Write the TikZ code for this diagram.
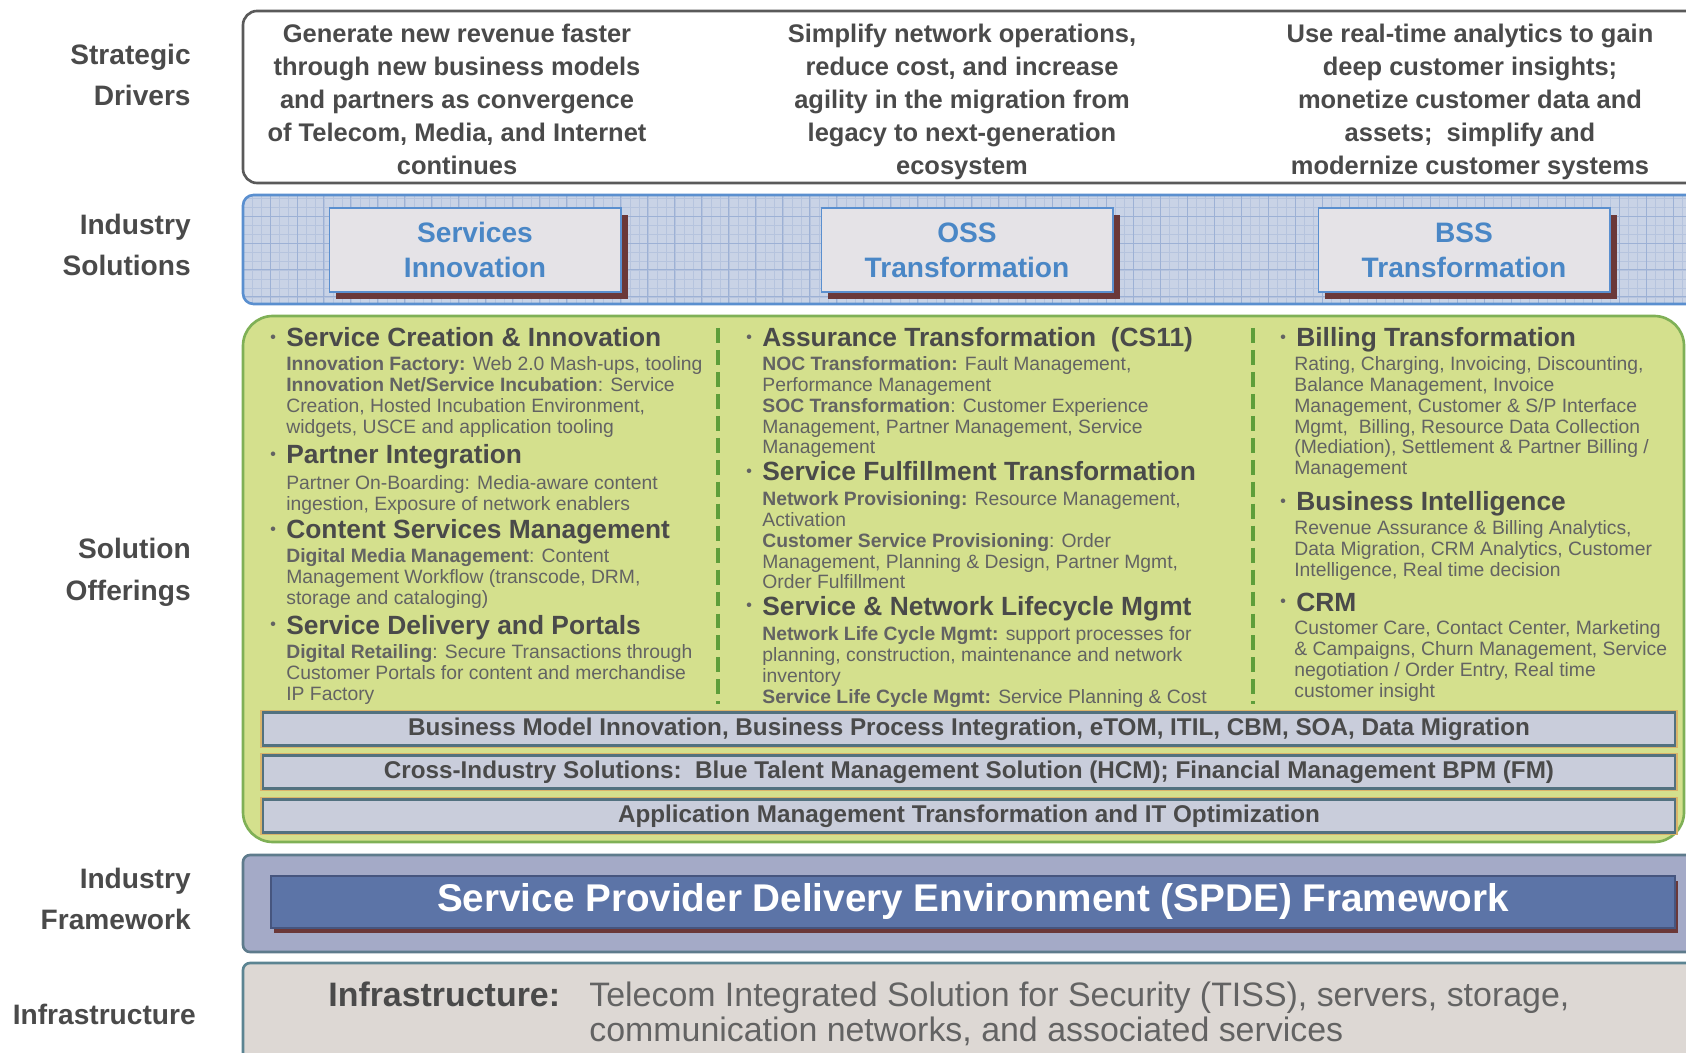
\documentclass[tikz,border=0pt]{standalone}
\usepackage{fontspec}
\setmainfont{Liberation Sans}
\usetikzlibrary{positioning,shadows}
\definecolor{TextGray}{HTML}{4A4A4A}
\definecolor{BodyGray}{HTML}{636363}
\definecolor{DriverEdge}{HTML}{5A5A5A}
\definecolor{SolFill}{HTML}{C9D3E6}
\definecolor{SolGrid}{HTML}{B6C4DE}
\definecolor{SolGridMajor}{HTML}{9DB1D5}
\definecolor{SolEdge}{HTML}{5A8FCF}
\definecolor{BoxFill}{HTML}{E5E3E7}
\definecolor{BoxText}{HTML}{4A87C6}
\definecolor{Shadow}{HTML}{6B3838}
\definecolor{Leaf}{HTML}{D4E08D}
\definecolor{LeafEdge}{HTML}{7FB056}
\definecolor{Dash}{HTML}{5E9E3A}
\definecolor{BarFill}{HTML}{C9CDDB}
\definecolor{BarEdge}{HTML}{52717F}
\definecolor{BarGlow}{HTML}{D9B46A}
\definecolor{FrameFill}{HTML}{A4AAC7}
\definecolor{FrameEdge}{HTML}{5E7B8C}
\definecolor{SpdeFill}{HTML}{5C74A7}
\definecolor{SpdeEdge}{HTML}{46557E}
\definecolor{InfraFill}{HTML}{DDD8D4}
\definecolor{InfraEdge}{HTML}{5B8492}

\begin{document}
\begin{tikzpicture}[x=0.02cm, y=-0.02cm,
    lbl/.style={anchor=east, align=right, inner sep=0pt, text=TextGray, font=\fontsize{16}{23.8}\selectfont\bfseries},
    driver/.style={anchor=north, align=center, inner sep=0pt, text=TextGray, font=\fontsize{14.5}{18.7}\selectfont\bfseries},
    solbox/.style={fill=BoxFill, draw=SolEdge, line width=0.6pt, minimum width=5.84cm, minimum height=1.68cm, align=center, text=BoxText, font=\fontsize{16}{19.8}\selectfont\bfseries, drop shadow={shadow xshift=4pt, shadow yshift=-4pt, fill=Shadow, opacity=1}},
    offerhead/.style={anchor=base west, inner sep=0pt, text=TextGray, font=\fontsize{15}{18}\selectfont\bfseries, execute at begin node={\llap{\color{BodyGray}\raisebox{0.3ex}{\fontsize{9}{9}\selectfont\textbullet}\hspace{6pt}}}},
    offerbody/.style={anchor=north west, inner sep=0pt, align=left, text=BodyGray, font=\fontsize{11}{11.9}\selectfont},
    bar/.style={fill=BarFill, draw=BarEdge, line width=1.2pt, preaction={draw=BarGlow, line width=3.4pt}, minimum width=28.24cm, minimum height=0.66cm, inner sep=0pt, text=TextGray, font=\fontsize{13.8}{16}\selectfont\bfseries},
    coldash/.style={draw=Dash, line width=2pt, dash pattern=on 8.5pt off 4pt}
  ]
  \useasboundingbox (0,0) rectangle (1686,1053);
  \clip (0,0) rectangle (1686,1053);

  % row labels
  \node[lbl] (lstrat) at (191,75) {Strategic\\Drivers};
  \node[lbl] (lind) at (191,245) {Industry\\Solutions};
  \node[lbl] (lsol) at (191,572) {Solution\\Offerings};
  \node[lbl] (lfw) at (191,899) {Industry\\Framework};
  \node[lbl] (linfra) at (196,1014) {Infrastructure};

  % strategic drivers
  \draw[fill=white, draw=DriverEdge, line width=1.5pt, rounded corners=8pt] (243,11) rectangle (1700,183);
  \node[driver] (drv1) at (457,24) {Generate new revenue faster\\through new business models\\and partners as convergence\\of Telecom, Media, and Internet\\continues};
  \node[driver] (drv2) at (962,24) {Simplify network operations,\\reduce cost, and increase\\agility in the migration from\\legacy to next-generation\\ecosystem};
  \node[driver] (drv3) at (1470,24) {Use real-time analytics to gain\\deep customer insights;\\monetize customer data and\\assets;\ \ simplify and\\modernize customer systems};

  % industry solutions
  \begin{scope}
    \clip[rounded corners=6pt] (243,195) rectangle (1700,304);
    \fill[SolFill] (243,195) rectangle (1700,304);
    \draw[SolGrid, line width=0.3pt] (240,190) grid[step=0.18cm] (1700,310);
    \draw[SolGridMajor, line width=0.5pt] (240,190) grid[step=0.54cm] (1700,310);
  \end{scope}
  \draw[draw=SolEdge, line width=1.5pt, rounded corners=6pt] (243,195) rectangle (1700,304);
  \node[solbox] (svc) at (475,250) {Services\\Innovation};
  \node[solbox] (oss) at (967,250) {OSS\\Transformation};
  \node[solbox] (bss) at (1464,250) {BSS\\Transformation};

  % solution offerings
  \draw[fill=Leaf, draw=LeafEdge, line width=1.5pt, rounded corners=17pt] (243,316) rectangle (1684,842);
  \draw[coldash] (718,328) -- (718,704);
  \draw[coldash] (1253,328) -- (1253,704);

  \node[offerhead] (h11) at (286,347) {Service Creation \& Innovation};
  \node[offerbody] (b11) at (286,356) {\textbf{Innovation Factory:} Web 2.0 Mash-ups, tooling\\\textbf{Innovation Net/Service Incubation}: Service\\Creation, Hosted Incubation Environment,\\widgets, USCE and application tooling};
  \node[offerhead] (h12) at (286,464) {Partner Integration};
  \node[offerbody] (b12) at (286,475) {Partner On-Boarding: Media-aware content\\ingestion, Exposure of network enablers};
  \node[offerhead] (h13) at (286,539) {Content Services Management};
  \node[offerbody] (b13) at (286,548) {\textbf{Digital Media Management}: Content\\Management Workflow (transcode, DRM,\\storage and cataloging)};
  \node[offerhead] (h14) at (286,634) {Service Delivery and Portals};
  \node[offerbody] (b14) at (286,644) {\textbf{Digital Retailing}: Secure Transactions through\\Customer Portals for content and merchandise\\IP Factory};

  \node[offerhead] (h21) at (762,347) {Assurance Transformation\ \ (CS11)};
  \node[offerbody] (b21) at (762,356) {\textbf{NOC Transformation:} Fault Management,\\Performance Management\\\textbf{SOC Transformation}: Customer Experience\\Management, Partner Management, Service\\Management};
  \node[offerhead] (h22) at (762,481) {Service Fulfillment Transformation};
  \node[offerbody] (b22) at (762,491) {\textbf{Network Provisioning:} Resource Management,\\Activation\\\textbf{Customer Service Provisioning}: Order\\Management, Planning \& Design, Partner Mgmt,\\Order Fulfillment};
  \node[offerhead] (h23) at (762,615) {Service \& Network Lifecycle Mgmt};
  \node[offerbody] (b23) at (762,626) {\textbf{Network Life Cycle Mgmt:} support processes for\\planning, construction, maintenance and network\\inventory\\\textbf{Service Life Cycle Mgmt:} Service Planning \& Cost};

  \node[offerhead] (h31) at (1296,347) {Billing Transformation};
  \node[offerbody] (b31) at (1294,356) {Rating, Charging, Invoicing, Discounting,\\Balance Management, Invoice\\Management, Customer \& S/P Interface\\Mgmt,\ \ Billing, Resource Data Collection\\(Mediation), Settlement \& Partner Billing /\\Management};
  \node[offerhead] (h32) at (1296,511) {Business Intelligence};
  \node[offerbody] (b32) at (1294,520) {Revenue Assurance \& Billing Analytics,\\Data Migration, CRM Analytics, Customer\\Intelligence, Real time decision};
  \node[offerhead] (h33) at (1296,611) {CRM};
  \node[offerbody] (b33) at (1294,620) {Customer Care, Contact Center, Marketing\\\& Campaigns, Churn Management, Service\\negotiation / Order Entry, Real time\\customer insight};

  \node[bar] (bar1) at (969,729) {Business Model Innovation, Business Process Integration, eTOM, ITIL, CBM, SOA, Data Migration};
  \node[bar] (bar2) at (969,772) {Cross-Industry Solutions:\ \ Blue Talent Management Solution (HCM); Financial Management BPM (FM)};
  \node[bar] (bar3) at (969,816) {Application Management Transformation and IT Optimization};

  % industry framework
  \draw[fill=FrameFill, draw=FrameEdge, line width=1.5pt, rounded corners=4pt] (243,855) rectangle (1700,952);
  \node[fill=SpdeFill, draw=SpdeEdge, line width=1pt, minimum width=28.08cm, minimum height=1.04cm, text=white, font=\fontsize{22}{26}\selectfont\bfseries, drop shadow={shadow xshift=1.5pt, shadow yshift=-3pt, fill=Shadow, opacity=1}] (spde) at (973,902) {Service Provider Delivery Environment (SPDE) Framework};

  % infrastructure
  \draw[fill=InfraFill, draw=InfraEdge, line width=1.5pt, rounded corners=4pt] (243,963) rectangle (1700,1070);
  \node[anchor=base west, inner sep=0pt, text=TextGray, font=\fontsize{19.3}{20}\selectfont\bfseries] (infrakey) at (328,1006) {Infrastructure:};
  \node[anchor=base west, inner sep=0pt, text=BodyGray, font=\fontsize{19.3}{20}\selectfont] (infra1) at (589,1006) {Telecom Integrated Solution for Security (TISS), servers, storage,};
  \node[anchor=base west, inner sep=0pt, text=BodyGray, font=\fontsize{19.3}{20}\selectfont] (infra2) at (589,1041) {communication networks, and associated services};
\end{tikzpicture}
\end{document}
